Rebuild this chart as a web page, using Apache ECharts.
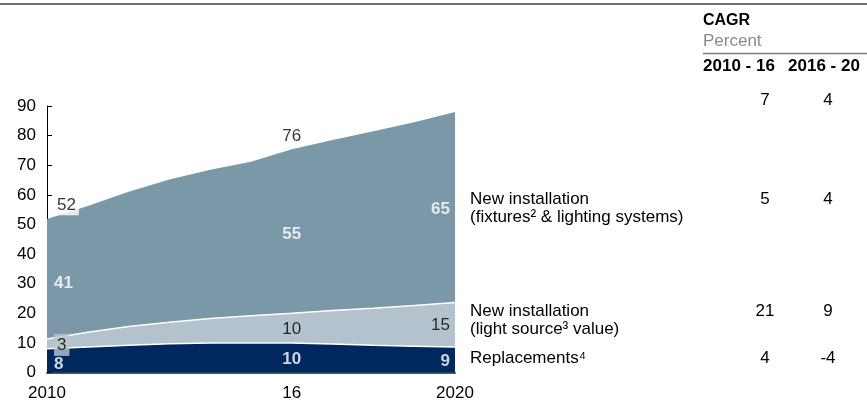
<!DOCTYPE html>
<html>
<head>
<meta charset="utf-8">
<script src="https://cdn.jsdelivr.net/npm/echarts@6/dist/echarts.min.js"></script>
<style>
html,body{margin:0;padding:0;background:#fff;}
#chart{width:867px;height:403px;}
</style>
</head>
<body>
<div id="chart"></div>
<script>
// ---- data ----
const years = ['2010','2011','2012','2013','2014','2015','2016','2017','2018','2019','2020'];
const xTickLabels = ['2010','','','','','','16','','','','2020'];
const yTicks = [0,10,20,30,40,50,60,70,80,90];
const replacements = [8, 8.6, 9.2, 9.7, 10, 10, 10, 9.6, 9.2, 8.9, 8.6];
const lightSource  = [3.3, 5, 6.3, 7.3, 8.2, 9.2, 10, 11.3, 12.5, 13.7, 15];
const fixtures     = [40.5, 42.6, 45.5, 48.2, 50.3, 52, 55.4, 57.6, 59.8, 61.9, 64.4];
const labelIdx     = [0, 6, 10];
const replLabels   = [8, 10, 9];
const lightLabels  = [3, 10, 15];
const fixLabels    = [41, 55, 65];
const totalLabels  = [52, 76, 88];
const legendNames  = [
  ['New installation', '(fixtures² & lighting systems)'],
  ['New installation', '(light source³ value)'],
  ['Replacements⁴']
];
const cagrHeaders = ['2010 - 16', '2016 - 20'];
const cagr1016 = [7, 5, 21, 4];
const cagr1620 = [4, 4, 9, -4];

// ---- chart ----
const FONT = '"Liberation Sans", Arial, sans-serif';
const FS = 17;
const C_FIX = '#7b98a9';
const C_LIGHT = '#b3c2cc';
const C_REPL = '#00285e';

const chart = echarts.init(document.getElementById('chart'), null, {renderer: 'canvas'});

function mids(base, vals) {
  return labelIdx.map(i => base[i] + vals[i] / 2);
}
const cumRepl = replacements.slice();
const cumLight = replacements.map((v, i) => v + lightSource[i]);
const cumTotal = cumLight.map((v, i) => v + fixtures[i]);
const zeros = years.map(() => 0);

function labelSeries(name, yVals, texts, style, dy) {
  return {
    type: 'scatter', name: name, symbolSize: 1, silent: true,
    itemStyle: {color: 'rgba(0,0,0,0)'}, z: 10,
    data: labelIdx.map((xi, k) => {
      const pos = k === 0 ? 'left' : (k === 2 ? 'right' : 'center');
      const oy = dy ? dy[k] : 0;
      return {
        value: [xi, yVals[k]],
        label: Object.assign({
          show: true, position: 'inside', formatter: String(texts[k]),
          fontFamily: FONT, fontSize: FS,
          align: pos, verticalAlign: 'middle',
          offset: k === 0 ? [7, oy] : (k === 2 ? [-5, oy] : [0, oy])
        }, (style[k] || style.all))
      };
    })
  };
}

const rowY = [100, 199, 311, 358];

const graphics = [
  {type: 'line', shape: {x1: 0, y1: 4, x2: 867, y2: 4}, style: {stroke: '#6f6f6f', lineWidth: 2}},
  {type: 'text', left: 703, top: 13, style: {text: 'CAGR', font: 'bold 16px ' + FONT, fill: '#000'}},
  {type: 'text', left: 703, top: 33, style: {text: 'Percent', font: FS + 'px ' + FONT, fill: '#8a8a8a'}},
  {type: 'line', shape: {x1: 703, y1: 53.5, x2: 867, y2: 53.5}, style: {stroke: '#7a7a7a', lineWidth: 1.5}},
  {type: 'text', x: 739, y: 66, style: {text: cagrHeaders[0], font: 'bold ' + FS + 'px ' + FONT, fill: '#000', align: 'center', verticalAlign: 'middle'}},
  {type: 'text', x: 824, y: 66, style: {text: cagrHeaders[1], font: 'bold ' + FS + 'px ' + FONT, fill: '#000', align: 'center', verticalAlign: 'middle'}}
];
rowY.forEach((y, i) => {
  graphics.push({type: 'text', x: 765, y: y, style: {text: String(cagr1016[i]), font: FS + 'px ' + FONT, fill: '#000', align: 'center', verticalAlign: 'middle'}});
  graphics.push({type: 'text', x: 828, y: y, style: {text: String(cagr1620[i]), font: FS + 'px ' + FONT, fill: '#000', align: 'center', verticalAlign: 'middle'}});
});
const legendY = [[199, 217], [311, 329], [358]];
legendNames.forEach((lines, i) => {
  lines.forEach((t, j) => {
    graphics.push({type: 'text', x: 470, y: legendY[i][j], style: {text: t, font: FS + 'px ' + FONT, fill: '#000', align: 'left', verticalAlign: 'middle'}});
  });
});

const option = {
  animation: false,
  backgroundColor: '#fff',
  grid: {left: 47, right: 412, top: 106, bottom: 30.5, containLabel: false},
  xAxis: {
    type: 'category', data: years, boundaryGap: false,
    axisLine: {show: true, lineStyle: {color: '#555', width: 2}},
    axisTick: {show: false},
    axisLabel: {
      interval: 0, margin: 12, color: '#000', fontFamily: FONT, fontSize: FS,
      formatter: (v, i) => xTickLabels[i]
    },
    splitLine: {show: false}
  },
  yAxis: {
    type: 'value', min: 0, max: 90, interval: 10,
    axisLine: {show: true, lineStyle: {color: '#000', width: 1}},
    axisTick: {show: true, inside: true, length: 5, lineStyle: {color: '#000'}},
    axisLabel: {color: '#000', fontFamily: FONT, fontSize: FS, margin: 11,
      formatter: v => yTicks.includes(v) ? String(v) : ''},
    splitLine: {show: false}
  },
  series: [
    {type: 'line', name: 'Replacements', stack: 'total', data: replacements, symbol: 'none',
      lineStyle: {color: '#fff', width: 1.5}, areaStyle: {color: C_REPL, opacity: 1}, z: 2},
    {type: 'line', name: 'Light source', stack: 'total', data: lightSource, symbol: 'none',
      lineStyle: {color: '#fff', width: 1.5}, areaStyle: {color: C_LIGHT, opacity: 1}, z: 2},
    {type: 'line', name: 'Fixtures', stack: 'total', data: fixtures, symbol: 'none',
      lineStyle: {width: 0}, areaStyle: {color: C_FIX, opacity: 1}, z: 2},
    labelSeries('replLbl', mids(zeros, replacements), replLabels,
      {all: {color: '#fff', fontWeight: 'bold'}}, [4, 2, 2]),
    labelSeries('lightLbl', mids(cumRepl, lightSource), lightLabels,
      {0: {color: '#000', backgroundColor: '#b9c5cd', padding: [3, 3, 2, 3]}, all: {color: '#000'}}, [1, 1, 0]),
    labelSeries('fixLbl', mids(cumLight, fixtures), fixLabels,
      {all: {color: '#fff', fontWeight: 'bold'}}, [4, 3, 2]),
    labelSeries('totalLbl', labelIdx.map(i => cumTotal[i] + 4.5), totalLabels,
      {0: {color: '#000', backgroundColor: '#fff', padding: [1, 3, 1, 3]}, all: {color: '#000'}})
  ],
  graphic: graphics
};
chart.setOption(option);
</script>
</body>
</html>
